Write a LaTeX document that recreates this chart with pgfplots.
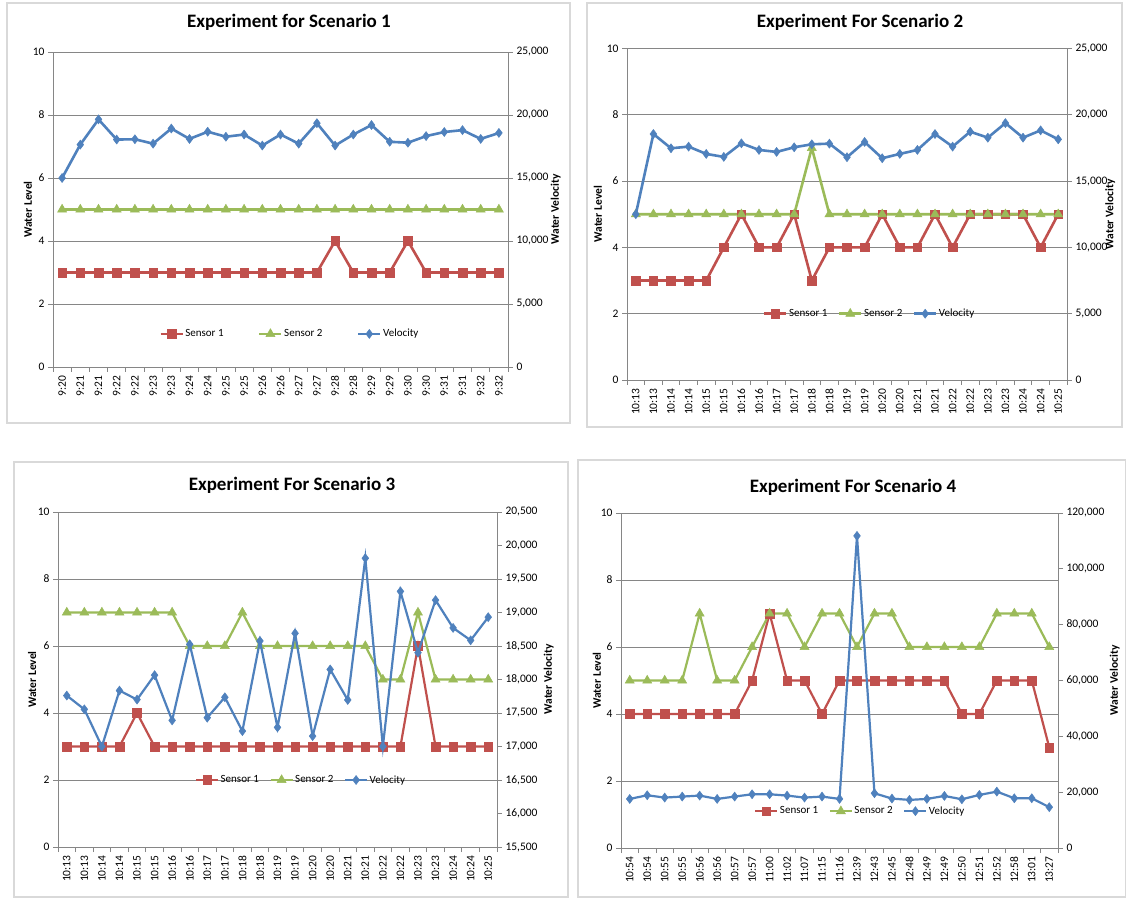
\documentclass[border=0pt]{standalone}
\usepackage{fontspec}
\setmainfont{Carlito}
\usepackage{pgfplots}
\usepackage{pgfplotstable}
\pgfplotsset{compat=1.18}
\definecolor{cR}{HTML}{C0504D}
\definecolor{cG}{HTML}{9BBB59}
\definecolor{cB}{HTML}{4F81BD}
\definecolor{axgray}{HTML}{868686}
\definecolor{boxgray}{HTML}{D9D9D9}

% Scenario 1
\pgfplotstableread{
x s1 s2 v
0 3 5 15000
1 3 5 17650
2 3 5 19650
3 3 5 18050
4 3 5 18075
5 3 5 17725
6 3 5 18925
7 3 5 18100
8 3 5 18675
9 3 5 18275
10 3 5 18450
11 3 5 17575
12 3 5 18450
13 3 5 17725
14 3 5 19350
15 4 5 17575
16 3 5 18450
17 3 5 19200
18 3 5 17875
19 4 5 17800
20 3 5 18325
21 3 5 18650
22 3 5 18800
23 3 5 18100
24 3 5 18575
}\tabA
% Scenario 2
\pgfplotstableread{
x s1 s2 v
0 3 5 12500
1 3 5 18550
2 3 5 17475
3 3 5 17600
4 3 5 17050
5 4 5 16825
6 5 5 17850
7 4 5 17350
8 4 5 17200
9 5 5 17550
10 3 7 17775
11 4 5 17825
12 4 5 16800
13 4 5 17950
14 5 5 16725
15 4 5 17050
16 4 5 17350
17 5 5 18550
18 4 5 17600
19 5 5 18725
20 5 5 18275
21 5 5 19375
22 5 5 18275
23 4 5 18825
24 5 5 18150
}\tabB
% Scenario 3
\pgfplotstableread{
x s1 s2 v
0 3 7 17760
1 3 7 17555
2 3 7 17000
3 3 7 17835
4 4 7 17700
5 3 7 18065
6 3 7 17390
7 3 6 18525
8 3 6 17430
9 3 6 17735
10 3 7 17230
11 3 6 18575
12 3 6 17285
13 3 6 18690
14 3 6 17155
15 3 6 18150
16 3 6 17695
17 3 6 19810
18 3 5 17000
19 3 5 19315
20 6 7 18400
21 3 5 19185
22 3 5 18770
23 3 5 18585
24 3 5 18930
}\tabC
% Scenario 4
\pgfplotstableread{
x s1 s2 v
0 4 5 17580
1 4 5 18890
2 4 5 18060
3 4 5 18420
4 4 7 18770
5 4 5 17580
6 4 5 18420
7 5 6 19250
8 7 7 19250
9 5 7 18770
10 5 6 18060
11 4 7 18420
12 5 7 17580
13 5 6 111800
14 5 7 19600
15 5 7 17700
16 5 6 17230
17 5 6 17580
18 5 6 18650
19 4 6 17460
20 4 6 19010
21 5 7 20200
22 5 7 17820
23 5 7 17820
24 3 6 14620
}\tabD

\pgfplotsset{
  common/.style={scale only axis, anchor=south west, xmin=-0.5, xmax=24.5,
    /pgf/number format/assume math mode=true,
    tick label style={font=\fontsize{11.5}{13}\selectfont, text=black},
    axis line style={axgray, line width=0.8pt},
    tick style={axgray, line width=0.8pt},
    tick align=outside,
    clip=false,
  },
  leftax/.style={common, ymin=0, ymax=10, ytick={0,2,...,10},
    axis x line*=bottom, axis y line*=left,
    ymajorgrids, grid style={axgray, line width=0.8pt},
    major tick length=0pt,
    xtick={0,...,24},
    minor xtick={-0.5,0.5,...,24.5}, minor ytick={0,2,...,10},
    minor tick length=5pt, minor tick style={axgray, line width=0.8pt},
    xticklabel style={rotate=90, anchor=east, xshift=-5pt},
    yticklabel style={xshift=-5pt},
    ylabel style={font=\bfseries\fontsize{11.5}{13}\selectfont, anchor=center},
  },
  rightax/.style={common, axis y line*=right, axis x line=none, scaled y ticks=false,
    major tick length=5pt,
    yticklabel style={/pgf/number format/fixed, /pgf/number format/1000 sep={,}},
    ylabel style={font=\bfseries\fontsize{11.5}{13}\selectfont, anchor=center},
    legend columns=3,
    legend style={draw=none, fill=none, font=\fontsize{11}{13}\selectfont, anchor=center,
      inner xsep=0pt, inner ysep=0pt, nodes={inner xsep=1.5pt, inner ysep=1pt}},
    legend image code/.code={\draw[mark repeat=2,mark phase=2] plot coordinates {(0pt,0pt) (11pt,0pt) (22pt,0pt)};},
  },
  sR/.style={color=cR, line width=#1, mark=square*, mark size=4.3pt, mark options={solid, fill=cR, line width=0.5pt}},
  sG/.style={color=cG, line width=#1, mark=triangle*, mark size=5.2pt, mark options={solid, fill=cG, line width=0.5pt}},
  sB/.style={color=cB, line width=#1, mark=diamond*, mark size=4.5pt, mark options={solid, fill=cB, line width=0.5pt}},
}

\begin{document}
\begin{tikzpicture}
\useasboundingbox (0pt,0pt) rectangle (1126pt,900pt);
\fill[white] (0pt,0pt) rectangle (1126pt,900pt);
% panel boxes
\draw[boxgray, line width=1.6pt] (7pt,477pt) rectangle (570pt,897pt);
\draw[boxgray, line width=1.6pt] (587pt,473pt) rectangle (1122pt,897pt);
\draw[boxgray, line width=1.6pt] (14pt,3pt) rectangle (568pt,438pt);
\draw[boxgray, line width=1.6pt] (578pt,3pt) rectangle (1126pt,440pt);
% titles
\node[font=\bfseries\fontsize{19}{22}\selectfont] at (289pt,878pt) {Experiment for Scenario 1};
\node[font=\bfseries\fontsize{19}{22}\selectfont] at (860pt,878pt) {Experiment For Scenario 2};
\node[font=\bfseries\fontsize{19}{22}\selectfont] at (292pt,415pt) {Experiment For Scenario 3};
\node[font=\bfseries\fontsize{19}{22}\selectfont] at (853pt,413pt) {Experiment For Scenario 4};

% ---------- Panel 1 ----------
\begin{axis}[leftax, at={(53pt,533pt)}, width=455pt, height=315pt,
  xticklabels={9:20,9:21,9:21,9:22,9:22,9:23,9:23,9:24,9:24,9:25,9:25,9:26,9:26,9:27,9:27,9:28,9:28,9:29,9:29,9:30,9:30,9:31,9:31,9:32,9:32},
  ylabel={Water Level}, ylabel style={at={(axis description cs:-0.055,0.5)}}]
\addplot[sR=2.6pt] table[x=x,y=s1]{\tabA};
\addplot[sG=2.6pt] table[x=x,y=s2]{\tabA};
\end{axis}
\begin{axis}[rightax, at={(53pt,533pt)}, width=455pt, height=315pt,
  ymin=0, ymax=25000, ytick={0,5000,...,25000},
  ylabel={Water Velocity}, ylabel style={at={(axis description cs:1.105,0.5)}},
  legend style={at={(rel axis cs:0.52,0.105)}, /tikz/every even column/.append style={column sep=33pt}}]
\addlegendimage{sR=2.6pt}\addlegendentry{Sensor 1}
\addlegendimage{sG=2.6pt}\addlegendentry{Sensor 2}
\addplot[sB=2.6pt] table[x=x,y=v]{\tabA};\addlegendentry{Velocity}
\end{axis}

% ---------- Panel 2 ----------
\begin{axis}[leftax, at={(627pt,520pt)}, width=440pt, height=331.5pt,
  xticklabels={10:13,10:13,10:14,10:14,10:15,10:15,10:16,10:16,10:17,10:17,10:18,10:18,10:19,10:19,10:20,10:20,10:21,10:21,10:22,10:22,10:23,10:23,10:24,10:24,10:25},
  ylabel={Water Level}, ylabel style={at={(axis description cs:-0.066,0.5)}}]
\addplot[sR=2.6pt] table[x=x,y=s1]{\tabB};
\addplot[sG=2.6pt] table[x=x,y=s2]{\tabB};
\end{axis}
\begin{axis}[rightax, at={(627pt,520pt)}, width=440pt, height=331.5pt,
  ymin=0, ymax=25000, ytick={0,5000,...,25000},
  ylabel={Water Velocity}, ylabel style={at={(axis description cs:1.098,0.5)}},
  legend style={at={(rel axis cs:0.551,0.2)}, /tikz/every even column/.append style={column sep=9pt}}]
\addlegendimage{sR=2.6pt}\addlegendentry{Sensor 1}
\addlegendimage{sG=2.6pt}\addlegendentry{Sensor 2}
\addplot[sB=2.6pt] table[x=x,y=v]{\tabB};\addlegendentry{Velocity}
\end{axis}

% ---------- Panel 3 ----------
\begin{axis}[leftax, at={(58pt,53pt)}, width=439pt, height=335pt,
  xticklabels={10:13,10:13,10:14,10:14,10:15,10:15,10:16,10:16,10:17,10:17,10:18,10:18,10:19,10:19,10:20,10:20,10:21,10:21,10:22,10:22,10:23,10:23,10:24,10:24,10:25},
  ylabel={Water Level}, ylabel style={at={(axis description cs:-0.059,0.5)}}]
\addplot[sR=2.2pt] table[x=x,y=s1]{\tabC};
\addplot[sG=2.2pt] table[x=x,y=s2]{\tabC};
\end{axis}
\begin{axis}[rightax, at={(58pt,53pt)}, width=439pt, height=335pt,
  ymin=15500, ymax=20500, ytick={15500,16000,...,20500},
  ylabel={Water Velocity}, ylabel style={at={(axis description cs:1.118,0.5)}},
  legend style={at={(rel axis cs:0.553,0.2)}, /tikz/every even column/.append style={column sep=9pt}}]
\addlegendimage{sR=2.2pt}\addlegendentry{Sensor 1}
\addlegendimage{sG=2.2pt}\addlegendentry{Sensor 2}
\addplot[sB=2.2pt] table[x=x,y=v]{\tabC};\addlegendentry{Velocity}
\end{axis}

% ---------- Panel 4 ----------
\begin{axis}[leftax, at={(621pt,52pt)}, width=437pt, height=335pt,
  xticklabels={10:54,10:54,10:55,10:55,10:56,10:56,10:57,10:57,11:00,11:02,11:07,11:15,11:16,12:39,12:43,12:45,12:48,12:49,12:49,12:50,12:51,12:52,12:58,13:01,13:27},
  ylabel={Water Level}, ylabel style={at={(axis description cs:-0.055,0.5)}}]
\addplot[sR=2.2pt] table[x=x,y=s1]{\tabD};
\addplot[sG=2.2pt] table[x=x,y=s2]{\tabD};
\end{axis}
\begin{axis}[rightax, at={(621pt,52pt)}, width=437pt, height=335pt,
  ymin=0, ymax=120000, ytick={0,20000,...,120000},
  ylabel={Water Velocity}, ylabel style={at={(axis description cs:1.13,0.5)}},
  legend style={at={(rel axis cs:0.547,0.11)}, /tikz/every even column/.append style={column sep=9pt}}]
\addlegendimage{sR=2.2pt}\addlegendentry{Sensor 1}
\addlegendimage{sG=2.2pt}\addlegendentry{Sensor 2}
\addplot[sB=2.2pt] table[x=x,y=v]{\tabD};\addlegendentry{Velocity}
\end{axis}
\end{tikzpicture}
\end{document}
